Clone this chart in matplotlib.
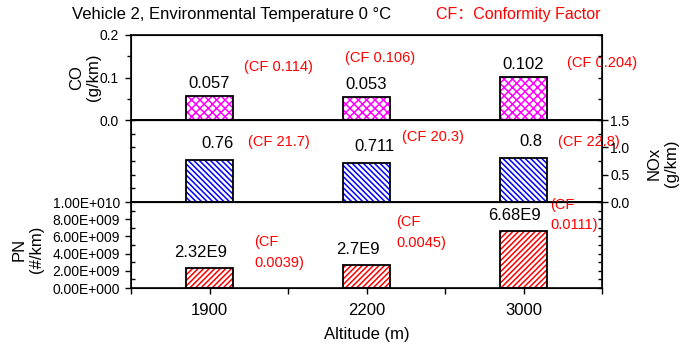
import numpy as np
import matplotlib
matplotlib.use('Agg')
import matplotlib.pyplot as plt
from matplotlib.ticker import MultipleLocator, FuncFormatter, FixedLocator

plt.rcParams['font.family'] = ['Liberation Sans', 'Noto Sans CJK SC', 'DejaVu Sans']
plt.rcParams['hatch.linewidth'] = 1.1

# data
altitudes = ['1900', '2200', '3000']
co = [0.057, 0.053, 0.102]
nox = [0.76, 0.711, 0.8]
pn = [2.32e9, 2.7e9, 6.68e9]
co_lbl = ['0.057', '0.053', '0.102']
nox_lbl = ['0.76', '0.711', '0.8']
pn_lbl = ['2.32E9', '2.7E9', '6.68E9']
co_cf = ['(CF 0.114)', '(CF 0.106)', '(CF 0.204)']
nox_cf = ['(CF 21.7)', '(CF 20.3)', '(CF 22.8)']
pn_cf = ['(CF\n0.0039)', '(CF\n0.0045)', '(CF\n0.0111)']

x = np.arange(len(altitudes))
W, H = 681, 346
fig = plt.figure(figsize=(W / 100, H / 100), dpi=100)

def rect(top, bot):
    return [131 / W, 1 - bot / H, (602 - 131) / W, (bot - top) / H]

ax1 = fig.add_axes(rect(35, 120))
ax2 = fig.add_axes(rect(120, 202))
ax3 = fig.add_axes(rect(202, 288))

def bars(ax, vals, col, hatch):
    ax.bar(x, vals, 0.3, facecolor='white', edgecolor=col, hatch=hatch, linewidth=0, zorder=2)
    ax.bar(x, vals, 0.3, fill=False, edgecolor='black', linewidth=1.3, zorder=3)

bars(ax1, co, '#ff00ff', 'xxxx')
bars(ax2, nox, '#0000ff', '\\' * 6)
bars(ax3, pn, '#ff0000', '/' * 6)

ax1.set_ylim(0, 0.2)
ax2.set_ylim(0, 1.5)
ax3.set_ylim(0, 1e10)

for ax in (ax1, ax2, ax3):
    ax.set_xlim(-0.5, 2.5)
    for s in ax.spines.values():
        s.set_linewidth(1.2)

# x ticks only on the bottom panel
for ax in (ax1, ax2):
    ax.tick_params(axis='x', which='both', bottom=False, labelbottom=False)
ax3.xaxis.set_major_locator(FixedLocator(x))
ax3.set_xticklabels(altitudes)
ax3.xaxis.set_minor_locator(FixedLocator([-0.5, 0.5, 1.5, 2.5]))
ax3.tick_params(axis='x', which='both', direction='out', length=4, width=1, pad=7, labelsize=12)
ax3.set_xlabel('Altitude (m)', fontsize=12, labelpad=6)

# top panel: CO
ax1.yaxis.set_major_locator(MultipleLocator(0.1))
ax1.yaxis.set_minor_locator(MultipleLocator(0.05))
ax1.yaxis.set_major_formatter(FuncFormatter(lambda v, p: f'{v:.1f}'))
ax1.tick_params(axis='y', which='major', direction='out', length=4, width=1, pad=5, labelsize=10)
ax1.tick_params(axis='y', which='minor', direction='out', length=3, width=1)
ax1.set_ylabel('CO\n(g/km)', fontsize=12, va='center')
ax1.yaxis.set_label_coords(-0.098, 0.5)
ax1r = ax1.twinx()
ax1r.set_ylim(0, 0.2)
ax1r.yaxis.set_major_locator(MultipleLocator(0.05))
ax1r.tick_params(axis='y', direction='in', length=3, width=1, labelright=False)

# middle panel: NOx on right axis
ax2.yaxis.set_major_locator(MultipleLocator(0.25))
ax2.tick_params(axis='y', direction='in', length=3, width=1, labelleft=False)
ax2r = ax2.twinx()
ax2r.set_ylim(0, 1.5)
ax2r.yaxis.set_major_locator(MultipleLocator(0.5))
ax2r.yaxis.set_minor_locator(MultipleLocator(0.25))
ax2r.yaxis.set_major_formatter(FuncFormatter(lambda v, p: f'{v:.1f}'))
ax2r.tick_params(axis='y', which='major', direction='out', length=4, width=1, pad=2, labelsize=10)
ax2r.tick_params(axis='y', which='minor', direction='in', length=3, width=1)
ax2r.set_ylabel('NOx\n(g/km)', fontsize=12, rotation=90, va='center')
ax2r.yaxis.set_label_coords(1.13, 0.47)

# bottom panel: PN
def sci(v, p):
    if v == 0:
        return '0.00E+000'
    e = int(np.floor(np.log10(abs(v))))
    return f'{v / 10**e:.2f}E+{e:03d}'

ax3.yaxis.set_major_locator(MultipleLocator(2e9))
ax3.yaxis.set_minor_locator(MultipleLocator(1e9))
ax3.yaxis.set_major_formatter(FuncFormatter(sci))
ax3.tick_params(axis='y', which='major', direction='out', length=4, width=1, pad=4, labelsize=10)
ax3.tick_params(axis='y', which='minor', direction='in', length=3, width=1)
ax3.set_ylabel('PN\n(#/km)', fontsize=12, va='center')
ax3.yaxis.set_label_coords(-0.219, 0.45)
ax3r = ax3.twinx()
ax3r.set_ylim(0, 1e10)
ax3r.yaxis.set_major_locator(MultipleLocator(1e9))
ax3r.tick_params(axis='y', direction='in', length=3, width=1, labelright=False)

for ax in (ax1r, ax2r, ax3r):
    ax.tick_params(axis='x', which='both', bottom=False, top=False, labelbottom=False)

# value labels (offsets in points from bar tops)
for i in x:
    ax1.annotate(co_lbl[i], (i, co[i]), xytext=(0, 9), textcoords='offset points',
                 ha='center', va='center', fontsize=12)
    ax2.annotate(nox_lbl[i], (i, nox[i]), xytext=(5.5, 12), textcoords='offset points',
                 ha='center', va='center', fontsize=12)
    ax3.annotate(pn_lbl[i], (i, pn[i]), xytext=(-6.5, 11), textcoords='offset points',
                 ha='center', va='center', fontsize=12)

# conformity factor labels
cf_kw = dict(color='#ff0000', fontsize=10.5, ha='left', va='center')
for xi, yi, t in zip([0.22, 0.866, 2.274], [0.125, 0.146, 0.134], co_cf):
    ax1.text(xi, yi, t, **cf_kw)
for xi, yi, t in zip([0.245, 1.229, 2.217], [1.097, 1.189, 1.097], nox_cf):
    ax2.text(xi, yi, t, zorder=5, **cf_kw)
for xi, yi, t in zip([0.285, 1.191, 2.172], [4.1e9, 6.45e9, 8.5e9], pn_cf):
    ax3.text(xi, yi, t, linespacing=1.6, **cf_kw)

fig.text(72 / W, 1 - 15 / H, 'Vehicle 2, Environmental Temperature 0 \u00b0C',
         fontsize=12, ha='left', va='center')
fig.text(436 / W, 1 - 15 / H, 'CF\uff1aConformity Factor', color='#ff0000',
         fontsize=11.5, ha='left', va='center')

fig.savefig('out.png', dpi=100)
